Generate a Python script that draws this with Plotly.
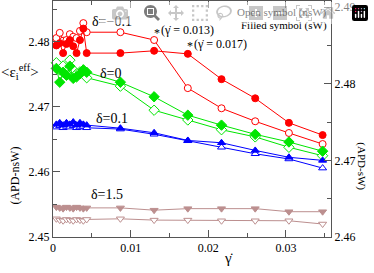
import plotly.graph_objects as go

# shear rates
gd_dense = [0.000434, 0.000868, 0.001302, 0.001736, 0.00217, 0.002604, 0.003038, 0.003472, 0.003906, 0.00434]
gd_main = [0.00868, 0.01302, 0.01736, 0.0217, 0.02604, 0.03038, 0.03472]
gd = gd_dense + gd_main

# open symbols (nsW, left axis)
red_open = [2.4806, 2.4814, 2.4802, 2.4803, 2.4812, 2.4808, 2.4806, 2.4817, 2.4829, 2.4815,
            2.4815, 2.4803, 2.4729, 2.4698, 2.4678, 2.4660, 2.4643]
green_open = [2.4768, 2.4757, 2.4763, 2.4754, 2.4772, 2.4757, 2.4751, 2.4754, 2.4757, 2.4745,
              2.4732, 2.4695, 2.4680, 2.4665, 2.4654, 2.4638, 2.4625]
blue_open = [2.4669, 2.4671, 2.4668, 2.4670, 2.4669, 2.4671, 2.4668, 2.4669, 2.4670, 2.4668,
             2.4666, 2.4658, 2.4648, 2.4638, 2.4628, 2.4620, 2.4606]
brown_open = [2.4528, 2.4526, 2.4525, 2.4527, 2.4526, 2.4525, 2.4527, 2.4526, 2.4525, 2.4527,
              2.4528, 2.4526, 2.4526, 2.4525, 2.4525, 2.4525, 2.4520]

# filled symbols (sW, right axis)
red_fill = [2.4850, 2.4853, 2.4840, 2.4852, 2.4857, 2.4849, 2.4840, 2.4857, 2.4872, 2.4840,
            2.4840, 2.4843, 2.4839, 2.4806, 2.4781, 2.4749, 2.4733]
green_fill = [2.4820, 2.4802, 2.4815, 2.4811, 2.4823, 2.4807, 2.4809, 2.4813, 2.4818, 2.4815,
              2.4802, 2.4783, 2.4759, 2.4746, 2.4734, 2.4724, 2.4712]
blue_fill = [2.4747, 2.4749, 2.4746, 2.4749, 2.4747, 2.4750, 2.4746, 2.4749, 2.4747, 2.4746,
             2.4742, 2.4736, 2.4726, 2.4723, 2.4713, 2.4704, 2.4700]
brown_fill = [2.4639, 2.4638, 2.4637, 2.4639, 2.4638, 2.4637, 2.4639, 2.4638, 2.4637, 2.4638,
              2.4638, 2.4635, 2.4637, 2.4637, 2.4637, 2.4633, 2.4633]

RED, GREEN, BLUE, BROWN = "#ff0000", "#00e600", "#0000ff", "#bc8f8f"
FONT = "Liberation Serif, DejaVu Serif, serif"

fig = go.Figure()

def add(y, color, symbol, filled, axis):
    fig.add_trace(go.Scatter(
        x=gd, y=y, mode="lines+markers", yaxis=axis,
        line=dict(color=color, width=1),
        marker=dict(symbol=symbol, size=7 if symbol != "diamond" else 8,
                    color=color if filled else "white",
                    line=dict(color=color, width=1)),
        showlegend=False, cliponaxis=False))

add(brown_open, BROWN, "triangle-down", False, "y")
add(brown_fill, BROWN, "triangle-down", True, "y2")
add(blue_open, BLUE, "triangle-up", False, "y")
add(blue_fill, BLUE, "triangle-up", True, "y2")
add(green_open, GREEN, "diamond", False, "y")
add(green_fill, GREEN, "diamond", True, "y2")
add(red_open, RED, "circle", False, "y")
add(red_fill, RED, "circle", True, "y2")

axis_common = dict(showline=True, linecolor="#555", linewidth=1, ticks="inside",
                   ticklen=7, tickcolor="#555", showgrid=False, zeroline=False,
                   tickfont=dict(family=FONT, size=12, color="black"))

fig.update_layout(
    width=374, height=273,
    margin=dict(l=53, r=43, t=1, b=36),
    paper_bgcolor="white", plot_bgcolor="white",
    font=dict(family=FONT, color="black", size=12),
    xaxis=dict(range=[0, 0.0358], tickvals=[0, 0.01, 0.02, 0.03],
               ticktext=["0", "0.01", "0.02", "0.03"], mirror="ticks",
               minor=dict(dtick=0.005, ticks="inside", ticklen=4, tickcolor="#555"),
               **axis_common),
    yaxis=dict(range=[2.45, 2.4863], tickvals=[2.45, 2.46, 2.47, 2.48],
               ticktext=["2.45", "2.46", "2.47", "2.48"],
               minor=dict(dtick=0.005, ticks="inside", ticklen=4, tickcolor="#555"),
               **axis_common),
    yaxis2=dict(range=[2.46, 2.4908], overlaying="y", side="right",
                tickvals=[2.46, 2.47, 2.48, 2.49],
                ticktext=["2.46", "2.47", "2.48", "2.49"],
                minor=dict(dtick=0.005, ticks="inside", ticklen=4, tickcolor="#555"),
                **axis_common),
)

def txt(x, y, s, size=14, xanchor="center"):
    fig.add_annotation(x=x, y=y, text=s, showarrow=False, xref="x", yref="y",
                       xanchor=xanchor, yanchor="middle",
                       font=dict(family=FONT, size=size, color="black"))

# delta labels (placed on left axis)
txt(0.0076, 2.4832, "δ=−0.1", 14)
txt(0.0075, 2.4752, "δ=0", 14)
txt(0.0076, 2.4683, "δ=0.1", 14)
txt(0.0070, 2.4565, "δ=1.5", 14)
txt(0.0128, 2.4814, "*", 12, xanchor="left")
txt(0.0137, 2.4818, "(γ̇ = 0.013)", 12, xanchor="left")
txt(0.0170, 2.4794, "*", 12, xanchor="left")
txt(0.0179, 2.4797, "(γ̇ = 0.017)", 12, xanchor="left")

def ptxt(x, y, s, size, angle=0, xanchor="center", yanchor="middle"):
    fig.add_annotation(x=x, y=y, xref="paper", yref="paper", showarrow=False,
                       text=s, textangle=angle, xanchor=xanchor, yanchor=yanchor,
                       borderpad=0,
                       font=dict(family=FONT, size=size, color="black"))

ptxt(0.99, 0.985, "Open symbol (nsW)", 11, xanchor="right", yanchor="top")
ptxt(0.99, 0.93, "Filled symbol (sW)", 11, xanchor="right", yanchor="top")

# axis titles
ptxt(-0.119, 0.70, "&lt;ε<sub>i</sub><sup>eff</sup>&gt;", 15)
ptxt(-0.137, 0.26, "(APD-nsW)", 12, angle=-90)
ptxt(1.111, 0.30, "(APD-sW)", 11, angle=90)
ptxt(0.63, -0.089, "γ̇", 15)

fig.write_html("out.html", post_script="document.body.style.margin='0';")
